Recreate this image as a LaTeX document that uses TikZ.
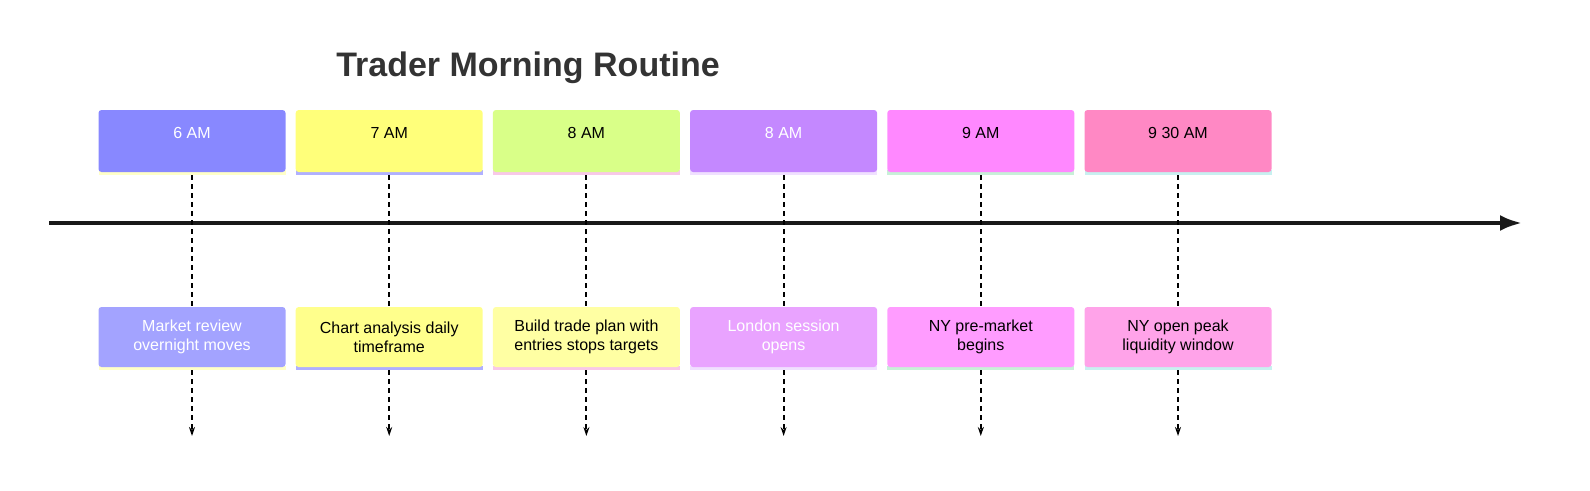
\documentclass[tikz,border=0pt]{standalone}
\usepackage{fontspec}
\setmainfont{Liberation Sans}
\usetikzlibrary{arrows.meta}
\definecolor{tA}{HTML}{8888FF}\definecolor{bA}{HTML}{A3A3FF}\definecolor{sA}{HTML}{FFFFC8}
\definecolor{tB}{HTML}{FFFF7A}\definecolor{bB}{HTML}{FFFF8C}\definecolor{sB}{HTML}{B0B0FF}
\definecolor{tC}{HTML}{D9FF88}\definecolor{bC}{HTML}{FFFFA3}\definecolor{sC}{HTML}{F8C8E8}
\definecolor{tD}{HTML}{C488FF}\definecolor{bD}{HTML}{E9A3FF}\definecolor{sD}{HTML}{F0E0FF}
\definecolor{tE}{HTML}{FF88FF}\definecolor{bE}{HTML}{FF9CFF}\definecolor{sE}{HTML}{C8F0D8}
\definecolor{tF}{HTML}{FF88C4}\definecolor{bF}{HTML}{FFA3E9}\definecolor{sF}{HTML}{C8F0F0}
\tikzset{
  period/.style={minimum width=187pt, minimum height=62pt, rounded corners=3pt, inner sep=0pt},
  event/.style={minimum width=187pt, minimum height=60pt, rounded corners=3pt, inner sep=0pt, align=center, font=\fontsize{16}{19}\selectfont},
  link/.style={dash pattern=on 5pt off 4pt, line width=2pt, black},
}
\begin{document}
\begin{tikzpicture}[x=1pt, y=-1pt]
\useasboundingbox (0,0) rectangle (1590,490);
\node[font=\bfseries\fontsize{34}{40}\selectfont, text=black!80] (title) at (528,68) {Trader Morning Routine};
\draw[line width=4pt, black!90, -{Latex[length=22pt,width=16pt]}] (49,223) -- (1522,223);
\foreach \i/\lbl/\txt/\tc/\bc/\sc/\fc in {
  0/6 AM/{Market review\\overnight moves}/tA/bA/sA/white,
  1/7 AM/{Chart analysis daily\\timeframe}/tB/bB/sB/black,
  2/8 AM/{Build trade plan with\\entries stops targets}/tC/bC/sC/black,
  3/8 AM/{London session\\opens}/tD/bD/sD/white,
  4/9 AM/{NY pre-market\\begins}/tE/bE/sE/black,
  5/9 30 AM/{NY open peak\\liquidity window}/tF/bF/sF/black}{
  \pgfmathsetmacro{\cx}{192+197.2*\i}
  \fill[\sc] (\cx-93.5,170) rectangle (\cx+93.5,175);
  \node[period, fill=\tc] (p\i) at (\cx,141) {};
  \node[text=\fc, font=\fontsize{16}{19}\selectfont] (l\i) at (\cx,133) {\lbl};
  \fill[\sc] (\cx-93.5,366) rectangle (\cx+93.5,370);
  \node[event, fill=\bc, text=\fc] (e\i) at (\cx,337) {\txt};
  \coordinate (end\i) at (\cx,436);
  \draw[link] ([yshift=-3pt]p\i.south) -- (e\i.north);
  \draw[link, -{Stealth[length=9pt,width=6pt]}] ([yshift=-3pt]e\i.south) -- (end\i);
}
\end{tikzpicture}
\end{document}
